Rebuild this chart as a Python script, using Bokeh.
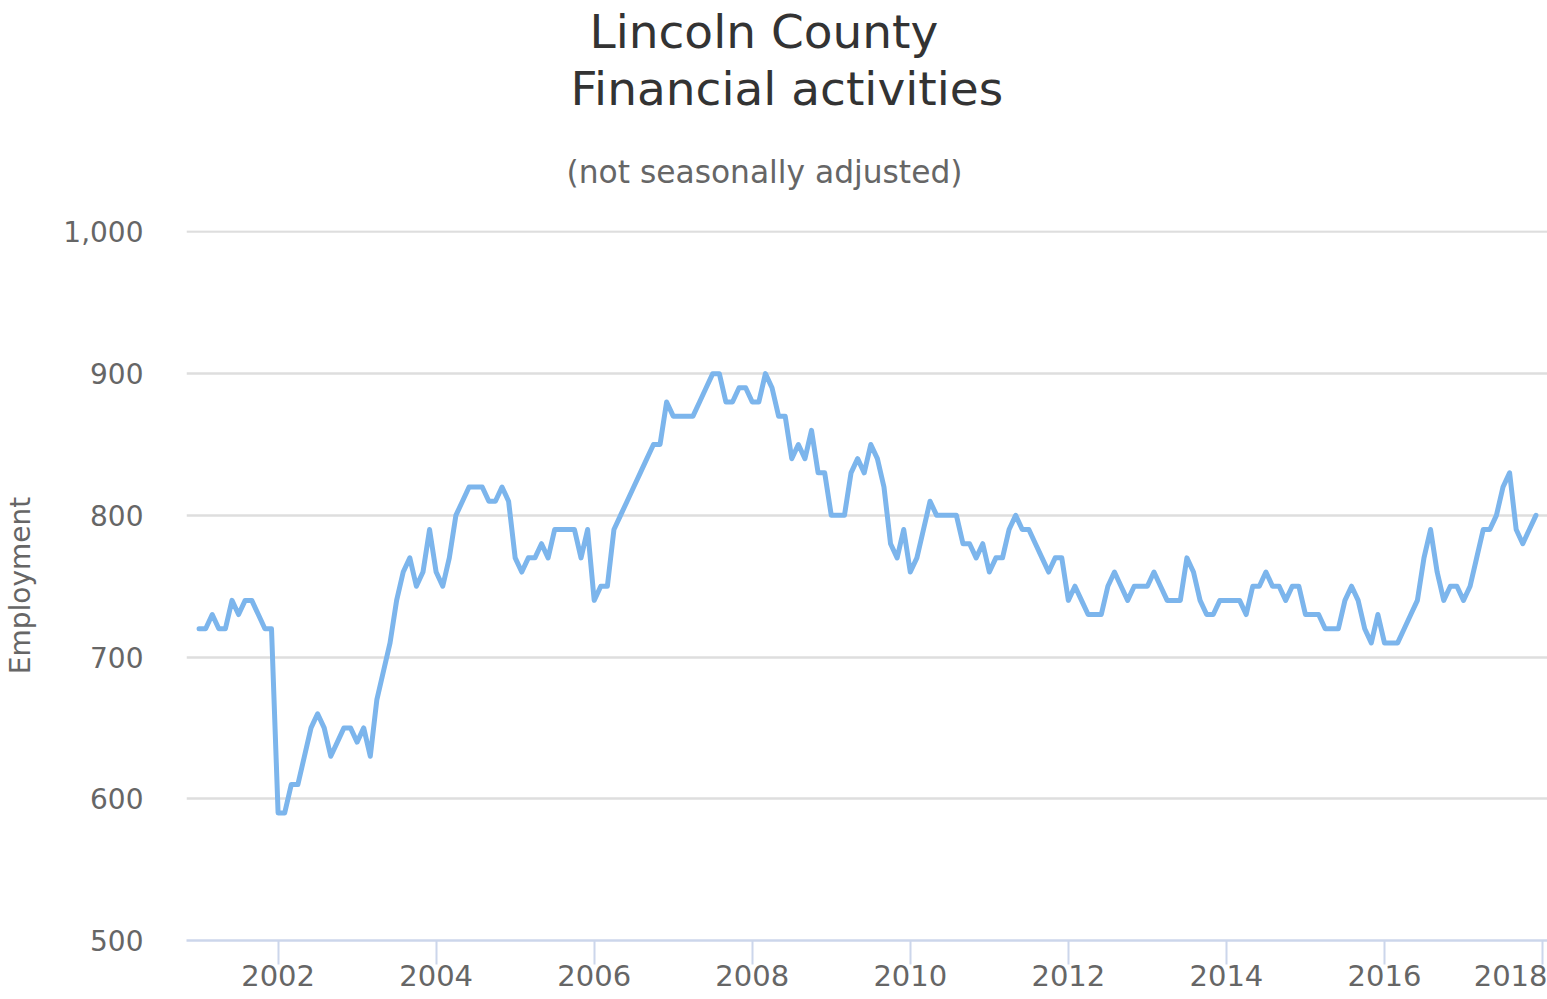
from bokeh.plotting import figure
from bokeh.models import Range1d, FixedTicker, NumeralTickFormatter, Title
from bokeh.embed import file_html
from bokeh.resources import INLINE

# ---- data (monthly employment, Jan 2001 - Dec 2017) ----
years = list(range(2001, 2018))
emp_2001 = [720, 720, 730, 720, 720, 740, 730, 740, 740, 730, 720, 720]
emp_2002 = [590, 590, 610, 610, 630, 650, 660, 650, 630, 640, 650, 650]
emp_2003 = [640, 650, 630, 670, 690, 710, 740, 760, 770, 750, 760, 790]
emp_2004 = [760, 750, 770, 800, 810, 820, 820, 820, 810, 810, 820, 810]
emp_2005 = [770, 760, 770, 770, 780, 770, 790, 790, 790, 790, 770, 790]
emp_2006 = [740, 750, 750, 790, 800, 810, 820, 830, 840, 850, 850, 880]
emp_2007 = [870, 870, 870, 870, 880, 890, 900, 900, 880, 880, 890, 890]
emp_2008 = [880, 880, 900, 890, 870, 870, 840, 850, 840, 860, 830, 830]
emp_2009 = [800, 800, 800, 830, 840, 830, 850, 840, 820, 780, 770, 790]
emp_2010 = [760, 770, 790, 810, 800, 800, 800, 800, 780, 780, 770, 780]
emp_2011 = [760, 770, 770, 790, 800, 790, 790, 780, 770, 760, 770, 770]
emp_2012 = [740, 750, 740, 730, 730, 730, 750, 760, 750, 740, 750, 750]
emp_2013 = [750, 760, 750, 740, 740, 740, 770, 760, 740, 730, 730, 740]
emp_2014 = [740, 740, 740, 730, 750, 750, 760, 750, 750, 740, 750, 750]
emp_2015 = [730, 730, 730, 720, 720, 720, 740, 750, 740, 720, 710, 730]
emp_2016 = [710, 710, 710, 720, 730, 740, 770, 790, 760, 740, 750, 750]
emp_2017 = [740, 750, 770, 790, 790, 800, 820, 830, 790, 780, 790, 800]

yearly = [emp_2001, emp_2002, emp_2003, emp_2004, emp_2005, emp_2006, emp_2007,
          emp_2008, emp_2009, emp_2010, emp_2011, emp_2012, emp_2013, emp_2014,
          emp_2015, emp_2016, emp_2017]

x_ticks = [2002, 2004, 2006, 2008, 2010, 2012, 2014, 2016, 2018]
y_ticks = [500, 600, 700, 800, 900, 1000]

xs, ys = [], []
for yr, vals in zip(years, yearly):
    for m, v in enumerate(vals):
        xs.append(yr + m / 12.0)
        ys.append(v)

FONT = "DejaVu Sans"

p = figure(width=1547, height=999, output_backend="svg", toolbar_location=None,
           x_range=Range1d(2000.841, 2018.063), y_range=Range1d(500, 1001),
           min_border_left=186, min_border_right=0, min_border_top=230,
           min_border_bottom=59, background_fill_color="white",
           border_fill_color="white")
p.outline_line_color = None
p.title.text = ""
p.title.visible = False


def spacer(gap):
    return Title(text=" ", text_font_size="1px", standoff=gap, text_color="white")


sub = Title(text="(not seasonally adjusted)", align="left", offset=380, text_font=FONT,
            text_font_size="31.3px", text_font_style="normal", text_color="#666666",
            standoff=0)
t2 = Title(text="Financial activities", align="left", offset=384, text_font=FONT,
           text_font_size="47px", text_font_style="normal", text_color="#333333",
           standoff=0)
t1 = Title(text="Lincoln County", align="left", offset=403, text_font=FONT,
           text_font_size="47px", text_font_style="normal", text_color="#333333",
           standoff=0)
p.add_layout(spacer(38), "above")
p.add_layout(sub, "above")
p.add_layout(spacer(33), "above")
p.add_layout(t2, "above")
p.add_layout(t1, "above")

p.line(xs, ys, line_color="#7cb5ec", line_width=5, line_join="round", line_cap="round")

# x axis
xa = p.xaxis[0]
xa.ticker = FixedTicker(ticks=x_ticks)
xa.axis_line_color = "#ccd6eb"
xa.axis_line_width = 2.5
xa.major_tick_line_color = "#ccd6eb"
xa.major_tick_line_width = 2
xa.major_tick_in = 0
xa.major_tick_out = 24
xa.minor_tick_line_color = None
xa.major_label_text_font = FONT
xa.major_label_text_font_size = "29px"
xa.major_label_text_color = "#666666"
xa.major_label_standoff = 0

# y axis
ya = p.yaxis[0]
ya.ticker = FixedTicker(ticks=y_ticks)
ya.formatter = NumeralTickFormatter(format="0,0")
ya.axis_line_color = None
ya.major_tick_line_color = None
ya.minor_tick_line_color = None
ya.major_label_text_font = FONT
ya.major_label_text_font_size = "28px"
ya.major_label_text_color = "#666666"
ya.major_label_standoff = 37
ya.axis_label = "Employment"
ya.axis_label_text_font = FONT
ya.axis_label_text_font_size = "28px"
ya.axis_label_text_font_style = "normal"
ya.axis_label_text_color = "#666666"
ya.axis_label_standoff = 23

p.xgrid.visible = False
p.ygrid.grid_line_color = "#dedede"
p.ygrid.grid_line_width = 2.5
p.ygrid.ticker = FixedTicker(ticks=y_ticks)

open("out.html", "w").write(file_html(p, INLINE))
